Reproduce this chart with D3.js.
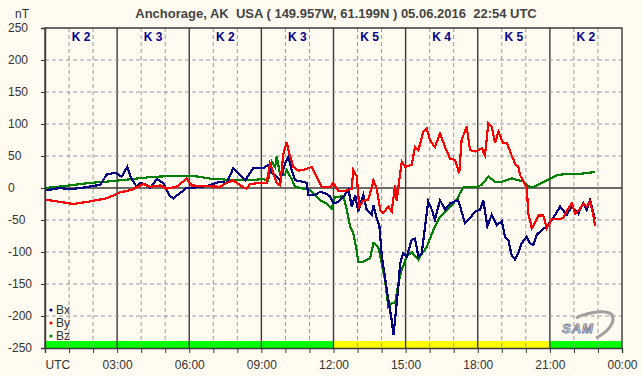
<!DOCTYPE html>
<html>
<head>
    <meta charset="utf-8">
    <title>Anchorage magnetometer</title>
    <style type="text/css">
        html, body { margin: 0; padding: 0; background: #FFFBF0; }
        svg text { font-family: "Liberation Sans", Arial, sans-serif; }
    </style>
</head>
<body>
<div id="chart"></div>
<script src="https://cdn.jsdelivr.net/npm/d3@7"></script>
<script type="text/javascript">
    // title and axis texts
    var title = "Anchorage, AK  USA ( 149.957W, 61.199N ) 05.06.2016  22:54 UTC";
    var yTicks = [-250, -200, -150, -100, -50, 0, 50, 100, 150, 200, 250];
    var hourTicks = d3.range(0, 25);
    var hourLabels = {0: "UTC", 3: "03:00", 6: "06:00", 9: "09:00", 12: "12:00",
        15: "15:00", 18: "18:00", 21: "21:00", 24: "00:00"};

    // K index for each 3 hour block
    var kIndex = [2, 3, 2, 3, 5, 4, 5, 2];

    // series, [hour UTC, nT]
    var bx = [[0, -4], [0.62, 0], [1.04, -2], [1.66, 1], [2.29, 5], [2.57, 21], [2.91, 24], [3.19, 18],
        [3.42, 33], [3.56, 17], [3.81, 2], [3.95, 8], [4.23, 5], [4.37, 0], [4.65, 14], [4.91, 8],
        [5.2, -13], [5.34, -16], [5.62, -8], [5.89, 0], [6.31, 1], [6.73, 3], [7.28, 10], [7.56, 8],
        [7.83, 31], [8.11, 20], [8.32, 12], [8.66, 31], [9.08, 31], [9.29, 36], [9.43, 24], [9.64, 18],
        [9.78, 12], [9.98, 38], [10.12, 49], [10.26, 28], [10.4, 12], [10.61, 11], [10.89, 8], [10.95, -11],
        [11.23, -11], [11.44, -6], [11.65, -8], [11.86, -13], [11.99, -24], [12.2, -22], [12.41, -14],
        [12.62, -2], [12.76, -29], [12.9, -11], [13.03, -37], [13.24, -11], [13.38, -34], [13.59, -42],
        [13.66, -27], [13.8, -47], [13.91, -60], [14.01, -107], [14.14, -139], [14.28, -175], [14.42, -206],
        [14.49, -230], [14.56, -206], [14.7, -154], [14.77, -118], [14.9, -102], [15.05, -107], [15.25, -81],
        [15.39, -79], [15.53, -107], [15.67, -102], [15.81, -60], [15.94, -21], [16.09, -34], [16.22, -50],
        [16.43, -19], [16.64, -34], [16.85, -24], [17.05, -21], [17.19, -19], [17.33, -37], [17.47, -55],
        [17.68, -47], [17.89, -37], [18.09, -34], [18.23, -19], [18.4, -60], [18.58, -42], [18.79, -58],
        [19.0, -52], [19.13, -76], [19.27, -81], [19.41, -105], [19.55, -112], [19.69, -102], [19.83, -86],
        [20.04, -76], [20.17, -86], [20.31, -89], [20.45, -73], [20.66, -66], [20.87, -60], [21.14, -47],
        [21.42, -29], [21.7, -42], [21.91, -29], [22.18, -40], [22.39, -24], [22.53, -34], [22.67, -19],
        [22.88, -49]];

    var by = [[0, -18], [0.33, -20], [1.18, -25], [1.87, -21], [2.57, -16], [3.12, -7], [3.67, -2],
        [4.09, 6], [4.37, 2], [4.78, 4], [5.06, -1], [5.48, 2], [5.74, 10], [5.89, 15], [6.1, 4],
        [6.57, 3], [7.28, 2], [7.56, 8], [7.83, 12], [7.97, 8], [8.25, 1], [8.39, -1], [8.53, 6],
        [8.94, 8], [9.22, 8], [9.36, 38], [9.64, 8], [9.78, 4], [9.91, 52], [10.05, 72], [10.16, 54],
        [10.33, 33], [10.54, 27], [10.82, 29], [11.09, 33], [11.3, 18], [11.51, 1], [11.86, 1],
        [11.99, 8], [12.2, -5], [12.48, -5], [12.76, -1], [12.82, 28], [12.97, 18], [13.07, -29],
        [13.24, -20], [13.45, -18], [13.59, 1], [13.66, 12], [13.8, -1], [13.94, -34], [14.07, -39],
        [14.28, -29], [14.42, -37], [14.56, 4], [14.63, -20], [14.7, 2], [14.84, 41], [14.98, 33],
        [15.25, 36], [15.39, 64], [15.53, 59], [15.74, 88], [15.88, 93], [16.01, 75], [16.22, 64],
        [16.43, 85], [16.64, 64], [16.85, 46], [17.05, 44], [17.23, 23], [17.33, 75], [17.54, 96],
        [17.68, 59], [17.89, 57], [18.17, 62], [18.3, 51], [18.44, 101], [18.58, 96], [18.72, 70],
        [18.86, 88], [19.06, 70], [19.21, 70], [19.41, 51], [19.55, 38], [19.69, 33], [19.76, 20],
        [19.97, 5], [20.04, 2], [20.1, -40], [20.25, -63], [20.38, -55], [20.52, -43], [20.73, -43],
        [20.87, -63], [21.08, -49], [21.29, -49], [21.56, -47], [21.7, -36], [21.91, -24], [22.05, -40],
        [22.18, -36], [22.39, -24], [22.53, -29], [22.67, -21], [22.81, -43], [22.88, -60]];

    var bz = [[0, 0], [1.04, 4], [1.87, 8], [2.57, 10], [3.4, 13], [4.37, 17], [5.32, 19], [5.89, 19],
        [6.31, 18], [6.99, 14], [7.28, 14], [7.7, 12], [8.11, 12], [8.53, 12], [9.07, 14], [9.28, 12],
        [9.43, 41], [9.57, 33], [9.64, 49], [9.78, 21], [9.98, 21], [10.05, 28], [10.26, 14], [10.4, 2],
        [10.74, -1], [11.02, -3], [11.23, -11], [11.44, -19], [11.72, -24], [11.93, -32], [12.06, -14],
        [12.41, -13], [12.55, -34], [12.69, -60], [12.82, -71], [12.94, -92], [13.03, -115], [13.24, -115],
        [13.52, -110], [13.66, -86], [13.86, -92], [14.01, -118], [14.14, -144], [14.28, -185],
        [14.42, -180], [14.56, -180], [14.7, -149], [14.84, -128], [15.05, -107], [15.25, -100],
        [15.53, -112], [15.67, -103], [15.88, -92], [16.15, -66], [16.43, -45], [16.85, -29], [17.13, -18],
        [17.26, -8], [17.4, 1], [17.61, 2], [17.89, 1], [18.17, 5], [18.44, 18], [18.72, 10], [19.0, 10],
        [19.41, 15], [19.69, 12], [19.9, 10], [20.1, 3], [20.31, 1], [20.59, 7], [20.87, 12], [21.29, 20],
        [21.7, 22], [22.25, 22], [22.88, 25]];

    var series = [
        {name: "Bz", data: bz, color: "#008000"},
        {name: "Bx", data: bx, color: "#000080"},
        {name: "By", data: by, color: "#FF0000"}
    ];
    var legendOrder = ["Bx", "By", "Bz"];

    var svg = d3.select('#chart')
        .append('svg')
        .attr("width", 642)
        .attr("height", 376);

    svg.append('rect')
        .attr("width", 642).attr("height", 376)
        .attr("fill", "#FFFBF0");

    var x = d3.scaleLinear().domain([0, 24]).range([45, 622]);
    var y = d3.scaleLinear().domain([-250, 250]).range([348, 28]);

    // activity bar under the curves
    var bar = svg.append('g');
    bar.selectAll('rect')
        .data(kIndex)
        .enter()
        .append('rect')
        .attr("x", function (d, i) { return x(i * 3); })
        .attr("width", function (d, i) { return x(i * 3 + 3) - x(i * 3); })
        .attr("y", 341)
        .attr("height", 7)
        .attr("fill", function (d) { return d >= 4 ? "#FFFF00" : "#00FF00"; });

    // grid, dashed every hour / 50 nT, solid every 3 hours / 0
    var grid = svg.append('g');
    grid.selectAll('line.v')
        .data(hourTicks.filter(function (h) { return h > 0 && h < 24; }))
        .enter()
        .append('line')
        .attr("x1", function (d) { return x(d); })
        .attr("x2", function (d) { return x(d); })
        .attr("y1", y(250)).attr("y2", y(-250))
        .attr("stroke", function (d) { return d % 3 == 0 ? "#3a3a3a" : "#999"; })
        .attr("stroke-width", function (d) { return d % 3 == 0 ? 1.4 : 1; })
        .attr("stroke-dasharray", function (d) { return d % 3 == 0 ? null : "4,3"; });

    grid.selectAll('line.h')
        .data(yTicks.filter(function (v) { return v > -250 && v < 250; }))
        .enter()
        .append('line')
        .attr("x1", x(0)).attr("x2", x(24))
        .attr("y1", function (d) { return y(d); })
        .attr("y2", function (d) { return y(d); })
        .attr("stroke", function (d) { return d == 0 ? "#3a3a3a" : "#999"; })
        .attr("stroke-width", function (d) { return d == 0 ? 1.4 : 1; })
        .attr("stroke-dasharray", function (d) { return d == 0 ? null : "4,3"; });

    // K labels
    svg.append('g').selectAll('text')
        .data(kIndex)
        .enter()
        .append('text')
        .attr("x", function (d, i) { return x(i * 3 + 1.5); })
        .attr("y", 41)
        .attr("text-anchor", "middle")
        .attr("font-size", "12px")
        .attr("font-weight", "bold")
        .attr("fill", "#00008B")
        .text(function (d) { return "K " + d; });

    // SAM logo
    var logo = svg.append('g').attr("transform", "translate(556,312)");
    logo.append('path')
        .attr("d", "M20,6 C34,-1 52,-2 56,3 C60,10 52,20 40,26")
        .attr("fill", "none")
        .attr("stroke", "#a0a0a0")
        .attr("stroke-width", 3);
    logo.append('text')
        .attr("x", 22).attr("y", 21)
        .attr("text-anchor", "middle")
        .attr("font-size", "13px")
        .attr("font-style", "italic")
        .attr("font-weight", "bold")
        .attr("fill", "#fff")
        .attr("stroke", "#7c8199")
        .attr("stroke-width", 1)
        .attr("letter-spacing", "1px")
        .text("SAM");

    // curves
    var line = d3.line()
        .x(function (d) { return x(d[0]); })
        .y(function (d) { return y(d[1]); });

    svg.append('g').selectAll('path')
        .data(series)
        .enter()
        .append('path')
        .attr("d", function (d) { return line(d.data); })
        .attr("fill", "none")
        .attr("stroke", function (d) { return d.color; })
        .attr("stroke-width", 2.2)
        .attr("shape-rendering", "crispEdges");

    // frame
    svg.append('path')
        .attr("d", "M" + x(0) + "," + y(-250) + "V" + y(250) + "H" + x(24) + "V" + y(-250))
        .attr("fill", "none")
        .attr("stroke", "#3a3a3a")
        .attr("stroke-width", 1.4);

    // y axis, plain hyphen for negatives
    var yAxis = svg.append('g')
        .attr("transform", "translate(" + x(0) + ",0)")
        .call(d3.axisLeft(y).tickValues(yTicks).tickSize(4)
            .tickFormat(function (d) { return String(d); }));
    yAxis.select('.domain').attr("stroke", "#3a3a3a").attr("stroke-width", 1.4);
    yAxis.selectAll('.tick line').attr("stroke", "#3a3a3a");
    yAxis.selectAll('.tick text')
        .attr("x", 8 - x(0))
        .attr("text-anchor", "start")
        .attr("font-size", "12px")
        .attr("font-family", "Liberation Sans, Arial, sans-serif")
        .attr("fill", "#333");

    // x axis
    var xAxis = svg.append('g')
        .attr("transform", "translate(0," + y(-250) + ")")
        .call(d3.axisBottom(x).tickValues(hourTicks).tickSize(5)
            .tickFormat(function (d) { return hourLabels[d] || ""; }));
    xAxis.select('.domain').attr("stroke", "#3a3a3a").attr("stroke-width", 1.4);
    xAxis.selectAll('.tick line').attr("stroke", "#3a3a3a");
    xAxis.selectAll('.tick text')
        .attr("y", 12)
        .attr("font-size", "12px")
        .attr("font-family", "Liberation Sans, Arial, sans-serif")
        .attr("fill", "#333")
        .attr("text-anchor", function (d) { return d == 0 ? "start" : "middle"; });

    // legend
    var legend = svg.append('g').selectAll('g')
        .data(legendOrder)
        .enter()
        .append('g')
        .attr("transform", function (d, i) { return "translate(51," + (310 + i * 13) + ")"; });
    legend.append('circle')
        .attr("r", 1.6)
        .attr("fill", function (d) {
            return series.filter(function (s) { return s.name == d; })[0].color;
        });
    legend.append('text')
        .attr("x", 5).attr("y", 4)
        .attr("font-size", "12px")
        .attr("fill", "#333")
        .text(function (d) { return d; });

    // title and unit
    svg.append('text')
        .attr("x", 336).attr("y", 18)
        .attr("text-anchor", "middle")
        .attr("font-size", "13px")
        .attr("font-weight", "bold")
        .attr("fill", "#444")
        .style("white-space", "pre")
        .text(title);

    svg.append('text')
        .attr("x", 15).attr("y", 18)
        .attr("font-size", "12px")
        .attr("fill", "#333")
        .text("nT");
</script>
</body>
</html>
